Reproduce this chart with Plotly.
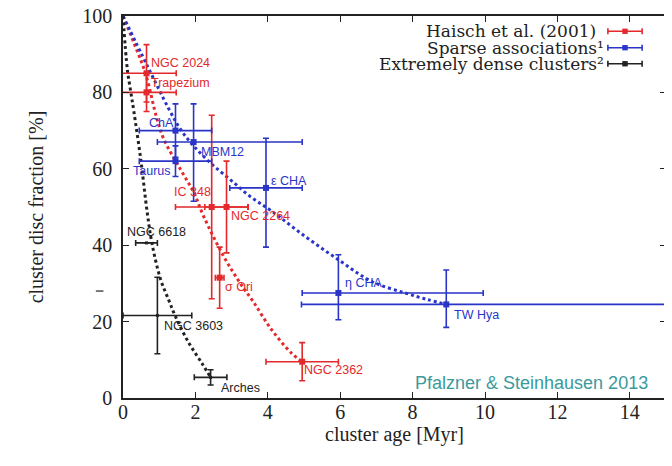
import plotly.graph_objects as go

# ---------------- data ----------------
# Haisch et al. (2001)
red_names = ["NGC 2024", "Trapezium", "IC 348", "NGC 2264", "σ Ori", "NGC 2362"]
red_age = [0.65, 0.65, 2.45, 2.86, 2.67, 4.95]
red_frac = [85, 80, 50, 50, 31.5, 9.5]
red_age_err = [0.82, 0.82, 1.0, 0.6, 0.12, 1.0]
red_frac_err = [7.5, 5, 24, 12, 8, 5]

# Sparse associations
blue_names = ["ChA", "Taurus", "MBM12", "ε CHA", "η CHA", "TW Hya"]
blue_age = [1.45, 1.45, 1.95, 3.95, 5.95, 8.93]
blue_frac = [70, 62, 67, 55, 27.5, 24.5]
blue_age_err_plus = [1, 1, 3, 1, 4, 7]
blue_age_err_minus = [1, 1, 1, 1, 1, 4]
blue_frac_err_plus = [7, 4, 10, 13, 10, 9]
blue_frac_err_minus = [7, 4, 15.5, 15.5, 7, 6]

# Extremely dense clusters
black_names = ["NGC 6618", "NGC 3603", "Arches"]
black_age = [0.65, 0.95, 2.42]
black_frac = [40.6, 21.6, 5.4]
black_age_err = [0.3, 0.95, 0.45]
black_frac_err = [0, 10, 2]

# fitted (dotted) curves
red_curve_age = [0, 0.3, 0.62, 0.94, 1.13, 1.59, 1.96, 2.23, 2.78, 3.24, 3.6, 4.11, 4.66, 4.95]
red_curve_frac = [100, 93, 85, 73, 67.7, 59.8, 53.7, 47.5, 37.1, 30, 25.2, 17.8, 11.7, 9.5]
blue_curve_age = [0, 0.67, 1.27, 1.59, 1.96, 2.42, 2.97, 3.52, 4.11, 5.03, 5.95, 6.87, 7.79, 8.4, 8.93]
blue_curve_frac = [100, 87, 75.6, 70.3, 65.9, 61.5, 57.1, 52.7, 48.9, 42.3, 36.2, 30.5, 27.5, 25.8, 24.5]
black_curve_age = [0, 0.12, 0.2, 0.3, 0.49, 0.67, 0.81, 1.04, 1.27, 1.45, 1.82, 2.18, 2.42]
black_curve_frac = [100, 86, 81, 75, 62.5, 48.5, 40, 31, 25.5, 21.3, 14.4, 9.1, 5.4]

x_ticks = [0, 2, 4, 6, 8, 10, 12, 14]
y_ticks = [0, 20, 40, 60, 80, 100]

legend_labels = ["Haisch et al. (2001)", "Sparse associations¹", "Extremely dense clusters²"]

# label anchor positions (left edge of text)
red_label_pos = [(0.72, 87.8), (0.72, 82.4), (1.36, 54), (2.92, 47.6), (2.76, 29), (4.94, 7.3)]
blue_label_pos = [(0.66, 72), (0.21, 59.4), (2.09, 64.5), (4.04, 56.9), (6.09, 30), (9.09, 21.7)]
black_label_pos = [(0.06, 43.5), (1.07, 18.9), (2.64, 2.5)]

RED = "#e3292b"
BLUE = "#2a35c8"
BLACK = "#222222"

fig = go.Figure()

# curves
for cx, cy, col in [(red_curve_age, red_curve_frac, RED),
                    (blue_curve_age, blue_curve_frac, BLUE),
                    (black_curve_age, black_curve_frac, BLACK)]:
    fig.add_trace(go.Scatter(x=cx, y=cy, mode="lines", line=dict(color=col, width=3, dash="dot"),
                             line_shape="spline", showlegend=False, hoverinfo="skip"))

# data points
fig.add_trace(go.Scatter(
    x=red_age, y=red_frac, mode="markers", text=red_names, showlegend=False,
    marker=dict(symbol="square", size=6, color=RED),
    error_x=dict(type="data", array=red_age_err, color=RED, thickness=1.6, width=3),
    error_y=dict(type="data", array=red_frac_err, color=RED, thickness=1.6, width=3)))
fig.add_trace(go.Scatter(
    x=blue_age, y=blue_frac, mode="markers", text=blue_names, showlegend=False,
    marker=dict(symbol="square", size=6, color=BLUE),
    error_x=dict(type="data", symmetric=False, array=blue_age_err_plus, arrayminus=blue_age_err_minus,
                 color=BLUE, thickness=1.6, width=3),
    error_y=dict(type="data", symmetric=False, array=blue_frac_err_plus, arrayminus=blue_frac_err_minus,
                 color=BLUE, thickness=1.6, width=3)))
fig.add_trace(go.Scatter(
    x=black_age, y=black_frac, mode="markers", text=black_names, showlegend=False,
    marker=dict(symbol="square", size=3, color=BLACK),
    error_x=dict(type="data", array=black_age_err, color=BLACK, thickness=1.6, width=3),
    error_y=dict(type="data", array=black_frac_err, color=BLACK, thickness=1.6, width=3)))

# point labels
lab_font = "Liberation Sans, Arial, sans-serif"
for names, pos, col in [(red_names, red_label_pos, RED), (blue_names, blue_label_pos, BLUE),
                        (black_names, black_label_pos, BLACK)]:
    for n, (lx, ly) in zip(names, pos):
        fig.add_annotation(x=lx, y=ly, text=n, showarrow=False, xanchor="left", yanchor="middle",
                           font=dict(family=lab_font, size=12.5, color=col))

# watermark
fig.add_annotation(xref="paper", yref="paper", x=0.971, y=0.039, text="Pfalzner & Steinhausen 2013",
                   showarrow=False, xanchor="right", yanchor="middle",
                   font=dict(family=lab_font, size=18, color="#3a9a9c"))

# custom legend (text right-aligned, symbol on the right)
serif = "Liberation Serif, Times New Roman, serif"
leg_serif = "DejaVu Serif, serif"
leg_cols = [RED, BLUE, BLACK]
leg_y = [0.96, 0.917, 0.875]
leg_text_x = [0.873, 0.888, 0.888]
for t, c, yy, tx in zip(legend_labels, leg_cols, leg_y, leg_text_x):
    fig.add_annotation(xref="paper", yref="paper", x=tx, y=yy, text=t, showarrow=False,
                       xanchor="right", yanchor="middle", borderpad=0,
                       font=dict(family=leg_serif, size=17, color=BLACK))
    x0, x1 = 0.893, 0.956
    fig.add_shape(type="line", xref="paper", yref="paper", x0=x0, x1=x1, y0=yy, y1=yy,
                  line=dict(color=c, width=1.6))
    for xe in (x0, x1):
        fig.add_shape(type="line", xref="paper", yref="paper", x0=xe, x1=xe, y0=yy - 0.008, y1=yy + 0.008,
                      line=dict(color=c, width=1.6))
    xm = (x0 + x1) / 2
    fig.add_shape(type="rect", xref="paper", yref="paper", x0=xm - 0.005, x1=xm + 0.005,
                  y0=yy - 0.007, y1=yy + 0.007, fillcolor=c, line=dict(width=0))

# small stray tick mark left of the axis
fig.add_shape(type="line", xref="paper", yref="paper", x0=-0.05, x1=-0.036, y0=0.28, y1=0.28,
              line=dict(color=BLACK, width=1.2))

axis_common = dict(showline=True, linecolor=BLACK, linewidth=1.5, mirror="allticks", ticks="inside",
                   ticklen=6, tickcolor=BLACK, tickwidth=1.2, showgrid=False, zeroline=False,
                   automargin=False, ticklabeloverflow="allow",
                   tickfont=dict(family=serif, size=20, color=BLACK))
fig.update_xaxes(range=[0, 15], tickvals=x_ticks, ticktext=[str(v) for v in x_ticks],
                 ticklabelstandoff=-5,
                 title=dict(text="cluster age [Myr]", font=dict(family=serif, size=20, color=BLACK), standoff=0),
                 **axis_common)
fig.update_yaxes(range=[0, 100], tickvals=y_ticks, ticktext=[str(v) for v in y_ticks],
                 ticklabelstandoff=5,
                 title=dict(text="cluster disc fraction [%]", font=dict(family=serif, size=20, color=BLACK), standoff=33),
                 **axis_common)

# the page body adds an 8 px offset, so the figure is 8 px smaller on each axis
fig.update_layout(width=664, height=458, margin=dict(l=115, r=6, t=8, b=68, autoexpand=False),
                  paper_bgcolor="white", plot_bgcolor="white", showlegend=False)

fig.write_html("out.html")
